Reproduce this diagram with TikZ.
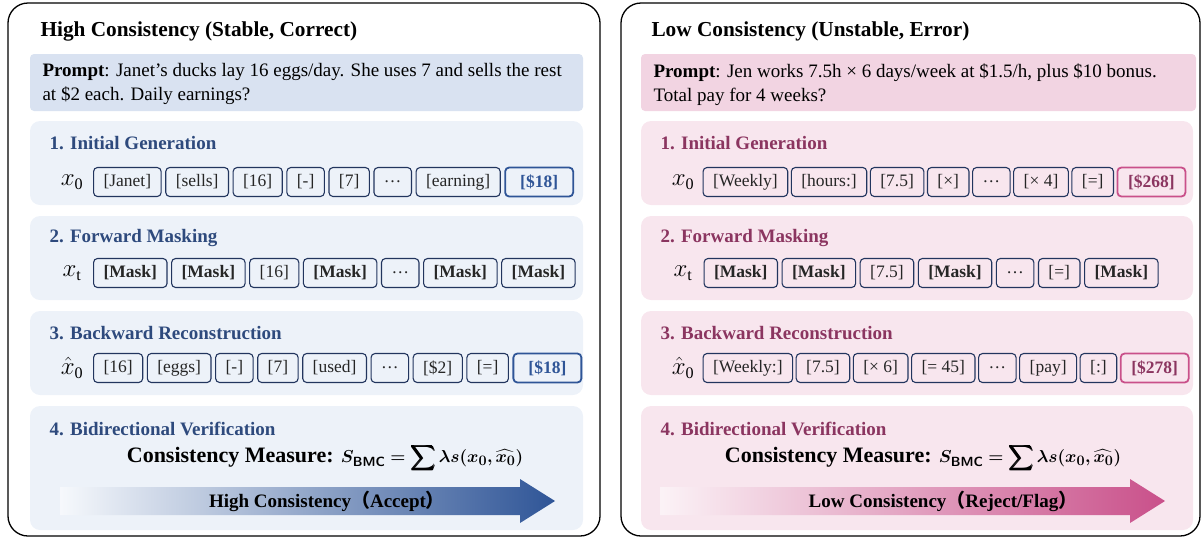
\documentclass[tikz,border=0pt]{standalone}
\usepackage{amsmath,bm}
\usepackage{fontspec}
\setmainfont{Liberation Serif}
\newfontfamily\cjk{Noto Sans CJK SC}
\usetikzlibrary{positioning}

\definecolor{hiblue}{HTML}{2F5597}
\definecolor{hihead}{HTML}{2E4A7D}
\definecolor{hiprompt}{HTML}{D9E2F1}
\definecolor{histage}{HTML}{EDF2F9}
\definecolor{lopink}{HTML}{C9508A}
\definecolor{lohead}{HTML}{8B3560}
\definecolor{loprompt}{HTML}{F2D4E2}
\definecolor{lostage}{HTML}{F8E6EE}
\definecolor{tokline}{HTML}{22355E}

\begin{document}
\begin{tikzpicture}[x=1pt,y=-1pt,
    panel/.style={draw=black,line width=1.3pt,rounded corners=20pt},
    title/.style={anchor=west,font=\fontsize{21.3}{24}\selectfont\bfseries},
    head/.style={anchor=west,font=\fontsize{19}{22}\selectfont\bfseries},
    prompttext/.style={anchor=north west,align=left,font=\fontsize{19}{24}\selectfont},
    tok/.style={draw=tokline,line width=1.1pt,rounded corners=4pt,minimum height=29pt,
        inner xsep=10pt,inner ysep=0pt,font=\fontsize{17.5}{18}\selectfont,text=black!85},
    hians/.style={tok,draw=hiblue,line width=1.8pt,minimum width=68pt,text=hiblue,font=\fontsize{17.5}{18}\selectfont\bfseries},
    loans/.style={tok,draw=lopink,line width=1.8pt,minimum width=68pt,text=lohead,font=\fontsize{17.5}{18}\selectfont\bfseries},
    var/.style={font=\fontsize{23}{24}\selectfont},
    measure/.style={font=\fontsize{22}{24}\selectfont\bfseries},
    verdict/.style={font=\fontsize{19}{22}\selectfont\bfseries}
]
\useasboundingbox (0,0) rectangle (1204,539);

% ---- left panel: high consistency
\draw[panel] (8,3) rectangle (600,536);
\node[title] (Ltitle) at (37,31) {High Consistency (Stable, Correct)};
\fill[hiprompt,rounded corners=4pt] (30,54) rectangle (583,111);
\node[prompttext] (Lprompt) at (39,60) {\textbf{Prompt}: Janet's ducks lay 16 eggs/day. She uses 7 and sells the rest\\at \$2 each. Daily earnings?};
\fill[histage,rounded corners=10pt] (30,121) rectangle (583,205);
\fill[histage,rounded corners=10pt] (30,216) rectangle (583,300);
\fill[histage,rounded corners=10pt] (30,311) rectangle (583,395);
\fill[histage,rounded corners=10pt] (30,406) rectangle (583,530);
\node[head,text=hihead] (Lh1) at (46,143) {1. Initial Generation};
\node[head,text=hihead] (Lh2) at (46,238) {2. Forward Masking};
\node[head,text=hihead] (Lh3) at (46,333) {3. Backward Reconstruction};
\node[head,text=hihead] (Lh4) at (46,429) {4. Bidirectional Verification};

\node[var] (Lv1) at (72,182) {$x_{\text{0}}$};
\coordinate (L1s) at (89.5,182);
\foreach \t/\s [count=\i, remember=\i as \j (initially s)] in
    {[Janet]/tok,[sells]/tok,[16]/tok,[-]/tok,[7]/tok,\dots/tok,[earning]/tok,[\$18]/hians}
    \node[\s,right=3.5pt of L1\j] (L1\i) {\t};

\node[var] (Lv2) at (72,273) {$x_{\text{t}}$};
\coordinate (L2s) at (89.5,273);
\foreach \t [count=\i, remember=\i as \j (initially s)] in
    {\textbf{[Mask]},\textbf{[Mask]},[16],\textbf{[Mask]},\dots,\textbf{[Mask]},\textbf{[Mask]}}
    \node[tok,right=3.5pt of L2\j] (L2\i) {\t};

\node[var] (Lv3) at (72,368) {$\hat{x}_{\text{0}}$};
\coordinate (L3s) at (89.5,368);
\foreach \t/\s [count=\i, remember=\i as \j (initially s)] in
    {[16]/tok,[eggs]/tok,[-]/tok,[7]/tok,[used]/tok,\dots/tok,[\$2]/tok,[=]/tok,[\$18]/hians}
    \node[\s,right=3.5pt of L3\j] (L3\i) {\t};

\node[measure] (Lmeas) at (325,458) {Consistency Measure: {\fontsize{19}{22}\selectfont$\bm{S_{\textsf{\textbf{BMC}}}=\displaystyle\sum\lambda s(x_0,\widehat{x_0})}$}};
\shade[left color=histage!50!white,middle color=hiblue!28!histage,right color=hiblue]
    (60,487) -- (520,487) -- (520,479) -- (555,501) -- (520,523) -- (520,515) -- (60,515) -- cycle;
\node[verdict] (Lverdict) at (327,501) {High Consistency{\cjk （}Accept{\cjk ）}};

% ---- right panel: low consistency
\draw[panel] (621,3) rectangle (1200,536);
\node[title] (Rtitle) at (648,31) {Low Consistency (Unstable, Error)};
\fill[loprompt,rounded corners=4pt] (641,54) rectangle (1196,111);
\node[prompttext] (Rprompt) at (650,60) {\textbf{Prompt}: Jen works 7.5h × 6 days/week at \$1.5/h, plus \$10 bonus.\\Total pay for 4 weeks?};
\fill[lostage,rounded corners=10pt] (641,121) rectangle (1193,205);
\fill[lostage,rounded corners=10pt] (641,216) rectangle (1193,300);
\fill[lostage,rounded corners=10pt] (641,311) rectangle (1193,395);
\fill[lostage,rounded corners=10pt] (641,406) rectangle (1193,530);
\node[head,text=lohead] (Rh1) at (657,143) {1. Initial Generation};
\node[head,text=lohead] (Rh2) at (657,238) {2. Forward Masking};
\node[head,text=lohead] (Rh3) at (657,333) {3. Backward Reconstruction};
\node[head,text=lohead] (Rh4) at (657,429) {4. Bidirectional Verification};

\node[var] (Rv1) at (683,182) {$x_{\text{0}}$};
\coordinate (R1s) at (700,182);
\foreach \t/\s [count=\i, remember=\i as \j (initially s)] in
    {[Weekly]/tok,[hours:]/tok,[7.5]/tok,[×]/tok,\dots/tok,[× 4]/tok,[=]/tok,[\$268]/loans}
    \node[\s,right=2.5pt of R1\j] (R1\i) {\t};

\node[var] (Rv2) at (683,273) {$x_{\text{t}}$};
\coordinate (R2s) at (700,273);
\foreach \t [count=\i, remember=\i as \j (initially s)] in
    {\textbf{[Mask]},\textbf{[Mask]},[7.5],\textbf{[Mask]},\dots,[=],\textbf{[Mask]}}
    \node[tok,right=3.5pt of R2\j] (R2\i) {\t};

\node[var] (Rv3) at (683,368) {$\hat{x}_{\text{0}}$};
\coordinate (R3s) at (700,368);
\foreach \t/\s [count=\i, remember=\i as \j (initially s)] in
    {[Weekly:]/tok,[7.5]/tok,[× 6]/tok,[= 45]/tok,\dots/tok,[pay]/tok,[:]/tok,[\$278]/loans}
    \node[\s,right=2.5pt of R3\j] (R3\i) {\t};

\node[measure] (Rmeas) at (923,458) {Consistency Measure: {\fontsize{19}{22}\selectfont$\bm{S_{\textsf{\textbf{BMC}}}=\displaystyle\sum\lambda s(x_0,\widehat{x_0})}$}};
\shade[left color=lostage!50!white,middle color=lopink!28!lostage,right color=lopink]
    (660,487) -- (1130,487) -- (1130,479) -- (1165,501) -- (1130,523) -- (1130,515) -- (660,515) -- cycle;
\node[verdict] (Rverdict) at (943,501) {Low Consistency{\cjk （}Reject/Flag{\cjk ）}};
\end{tikzpicture}
\end{document}
